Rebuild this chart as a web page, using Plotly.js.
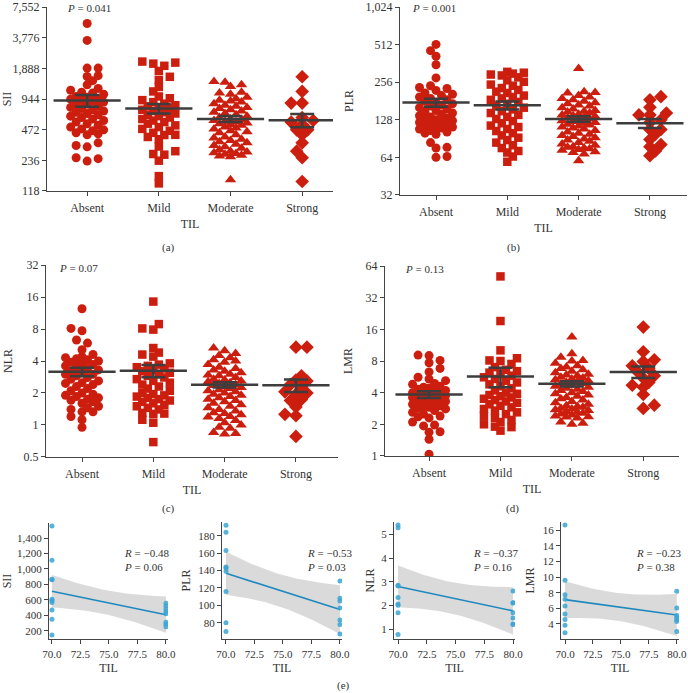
<!DOCTYPE html>
<html>
<head>
<meta charset="utf-8">
<script src="https://cdn.plot.ly/plotly-3.0.1.min.js"></script>
<style>body{margin:0;background:#fff}</style>
</head>
<body>
<div id="chart" style="width:688px;height:693px"></div>
<script>
// groups of TIL
var groups = ["Absent", "Mild", "Moderate", "Strong"];

// (a) SII
var siiAbsent = [5200, 3550, 1900, 1900, 1600, 1570, 1430, 1300, 1200, 1150, 1100, 1080, 1050, 1000, 980, 950, 940, 920, 900, 880, 860, 840, 800, 780, 760, 740, 720, 700, 680, 660, 640, 620, 600, 580, 560, 540, 520, 500, 480, 470, 460, 440, 430, 420, 350, 330, 320, 250, 245, 232];
var siiMild = [2200, 2150, 2100, 2000, 1780, 1560, 1450, 1240, 1120, 1000, 960, 920, 880, 850, 820, 800, 780, 760, 740, 720, 700, 680, 660, 640, 620, 600, 580, 560, 540, 520, 500, 480, 460, 440, 420, 418, 400, 380, 322, 290, 272, 268, 234, 165, 140];
var siiModerate = [1400, 1380, 1300, 1250, 1100, 1080, 1050, 980, 950, 920, 900, 880, 850, 820, 800, 780, 760, 740, 720, 700, 680, 660, 640, 620, 600, 590, 580, 570, 560, 550, 540, 530, 520, 500, 490, 480, 460, 450, 440, 420, 400, 390, 380, 370, 360, 350, 340, 330, 320, 310, 300, 290, 285, 280, 276, 270, 265, 260, 256, 152];
var siiStrong = [1560, 1120, 860, 860, 620, 580, 560, 530, 470, 470, 420, 350, 290, 250, 146];
var siiMean = [913, 761, 602, 585];
var siiSem = [120, 80, 40, 88];
var siiTicks = [118, 236, 472, 944, 1888, 3776, 7552];
var siiTickText = ["118", "236", "472", "944", "1,888", "3,776", "7,552"];

// (b) PLR
var plrAbsent = [514, 458, 413, 353, 277, 240, 232, 228, 220, 210, 205, 200, 195, 190, 185, 180, 176, 172, 168, 165, 160, 156, 152, 148, 145, 142, 138, 135, 132, 130, 128, 126, 124, 122, 120, 118, 116, 114, 112, 110, 108, 105, 102, 100, 98, 84, 77, 76, 65, 64];
var plrMild = [310, 305, 300, 295, 290, 280, 265, 258, 245, 240, 230, 222, 215, 210, 200, 195, 190, 185, 178, 172, 165, 160, 155, 150, 145, 140, 135, 130, 125, 120, 115, 112, 108, 104, 100, 96, 92, 88, 84, 80, 76, 72, 70, 65, 59];
var plrModerate = [330, 215, 212, 210, 200, 195, 190, 185, 180, 175, 172, 168, 165, 160, 156, 152, 150, 148, 145, 142, 140, 138, 136, 134, 132, 130, 128, 126, 124, 122, 120, 118, 116, 114, 112, 110, 108, 105, 102, 100, 98, 96, 94, 92, 90, 88, 86, 84, 82, 80, 78, 77, 76, 75, 74, 73, 71, 70, 68, 60];
var plrStrong = [196, 185, 161, 145, 140, 140, 128, 122, 107, 107, 98, 89, 81, 78, 72, 66];
var plrMean = [176, 167, 130, 120];
var plrSem = [13, 12, 6.5, 10];
var plrTicks = [32, 64, 128, 256, 512, 1024];
var plrTickText = ["32", "64", "128", "256", "512", "1,024"];

// (c) NLR
var nlrAbsent = [12.4, 8.1, 7.7, 6.3, 5.9, 5.1, 4.6, 4.4, 4.3, 4.2, 4.1, 4.0, 3.9, 3.8, 3.7, 3.6, 3.5, 3.4, 3.3, 3.2, 3.1, 3.0, 3.0, 2.9, 2.8, 2.7, 2.6, 2.5, 2.46, 2.4, 2.3, 2.2, 2.1, 2.0, 1.95, 1.9, 1.85, 1.8, 1.75, 1.71, 1.65, 1.6, 1.5, 1.45, 1.4, 1.33, 1.33, 1.2, 1.12, 0.95];
var nlrMild = [14.5, 8.9, 8.1, 7.9, 5.3, 4.8, 4.6, 4.4, 3.8, 3.7, 3.6, 3.5, 3.4, 3.3, 3.2, 3.1, 3.0, 2.9, 2.8, 2.7, 2.6, 2.5, 2.4, 2.3, 2.2, 2.1, 2.0, 1.95, 1.9, 1.85, 1.8, 1.75, 1.7, 1.65, 1.6, 1.55, 1.5, 1.45, 1.4, 1.3, 1.28, 1.27, 1.12, 1.05, 0.69];
var nlrModerate = [5.3, 5.0, 4.7, 4.5, 4.3, 4.1, 4.0, 3.9, 3.7, 3.5, 3.4, 3.3, 3.2, 3.1, 3.0, 2.95, 2.9, 2.8, 2.7, 2.65, 2.6, 2.55, 2.5, 2.45, 2.4, 2.35, 2.3, 2.25, 2.2, 2.15, 2.1, 2.05, 2.0, 1.95, 1.9, 1.85, 1.8, 1.75, 1.7, 1.65, 1.6, 1.55, 1.5, 1.45, 1.4, 1.35, 1.3, 1.28, 1.25, 1.2, 1.19, 1.15, 1.1, 1.05, 1.0, 0.95, 0.93, 0.85, 0.83, 0.82];
var nlrStrong = [5.4, 5.4, 2.9, 2.65, 2.6, 2.4, 2.25, 2.05, 2.0, 1.95, 1.74, 1.7, 1.48, 1.26, 1.22, 0.78];
var nlrMean = [3.17, 3.24, 2.39, 2.36];
var nlrSem = [0.29, 0.42, 0.14, 0.32];
var nlrTicks = [0.5, 1, 2, 4, 8, 16, 32];
var nlrTickText = ["0.5", "1", "2", "4", "8", "16", "32"];

// (d) LMR
var lmrAbsent = [9.1, 9.0, 8.1, 7.7, 6.8, 6.3, 5.6, 5.4, 5.2, 4.9, 4.8, 4.6, 4.5, 4.4, 4.3, 4.2, 4.1, 4.0, 3.95, 3.9, 3.85, 3.8, 3.75, 3.7, 3.6, 3.5, 3.45, 3.4, 3.35, 3.3, 3.2, 3.1, 3.0, 2.95, 2.9, 2.85, 2.8, 2.7, 2.6, 2.5, 2.4, 2.36, 2.3, 2.1, 1.97, 1.93, 1.7, 1.68, 1.44, 1.04];
var lmrMild = [51, 19.2, 10.1, 8.5, 8.1, 8.0, 7.5, 7.0, 6.6, 6.4, 6.2, 6.0, 5.8, 5.6, 5.4, 5.2, 5.0, 4.8, 4.6, 4.4, 4.2, 4.0, 3.9, 3.8, 3.7, 3.6, 3.5, 3.4, 3.3, 3.2, 3.1, 3.0, 2.9, 2.8, 2.7, 2.6, 2.5, 2.4, 2.3, 2.2, 2.1, 2.0, 1.9, 1.88, 1.74];
var lmrModerate = [13.5, 9.4, 8.7, 8.1, 8.0, 7.6, 7.2, 7.0, 6.8, 6.6, 6.4, 6.2, 6.0, 5.9, 5.8, 5.6, 5.5, 5.4, 5.3, 5.2, 5.1, 5.0, 4.9, 4.8, 4.7, 4.6, 4.5, 4.4, 4.3, 4.2, 4.1, 4.0, 3.9, 3.8, 3.7, 3.6, 3.5, 3.4, 3.3, 3.2, 3.1, 3.0, 2.95, 2.9, 2.85, 2.8, 2.75, 2.7, 2.65, 2.6, 2.55, 2.5, 2.45, 2.4, 2.36, 2.35, 2.3, 2.1, 2.05, 2.0];
var lmrStrong = [16.8, 9.8, 8.2, 7.9, 7.2, 6.8, 6.3, 5.8, 5.5, 5.0, 4.7, 4.5, 3.84, 3.04, 2.83];
var lmrMean = [3.84, 5.69, 4.85, 6.3];
var lmrSem = [0.29, 1.2, 0.28, 0.78];
var lmrTicks = [1, 2, 4, 8, 16, 32, 64];
var lmrTickText = ["1", "2", "4", "8", "16", "32", "64"];

// (e) correlation with TIL (70 vs 80)
var sii70 = [1555, 1112, 867, 860, 609, 590, 566, 467, 350, 144];
var sii80 = [555, 520, 480, 445, 420, 310, 285, 250];
var plr70 = [192, 184, 163, 144, 143, 139, 116, 80, 70];
var plr80 = [128, 108, 105, 97, 83, 78, 67];
var nlr70 = [5.39, 5.28, 2.85, 2.82, 2.33, 2.06, 2.0, 1.69, 0.77];
var nlr80 = [2.61, 2.11, 2.1, 1.69, 1.47, 1.21, 1.19];
var lmr70 = [16.7, 9.6, 7.74, 7.14, 6.28, 5.25, 4.56, 3.8, 2.84];
var lmr80 = [8.17, 6.02, 5.08, 4.82, 4.56, 4.3, 3.0];
var tilTicks = [70, 72.5, 75, 77.5, 80];
var siiCorrTicks = [200, 400, 600, 800, 1000, 1200, 1400];
var plrCorrTicks = [80, 100, 120, 140, 160, 180];
var nlrCorrTicks = [1, 2, 3, 4, 5];
var lmrCorrTicks = [4, 6, 8, 10, 12, 14, 16];
var corrR = ["\u22120.48", "\u22120.53", "\u22120.37", "\u22120.23"];
var corrP = ["0.06", "0.03", "0.16", "0.38"];

var W = 688, H = 693;
var FONT = "Liberation Serif";
var TXT = "#333";
var RED = "#cc1e0e";
var GREY = "#3d3d3d";

function xd(a, b) { return [a / W, b / W]; }
function yd(top, bot) { return [(H - bot) / H, (H - top) / H]; }

// column scatter: offsets in category units, at most maxK columns each side
function swarm(vals, pxPerDec, pxPerCat) {
  var pts = vals.map(function (v, i) { return {i: i, py: Math.log10(v) * pxPerDec}; });
  pts.sort(function (a, b) { return a.py - b.py; });
  var placed = [], out = [];
  var step = 5.5, minD = 6.8, maxK = 3;
  function gap(c, p) {
    var m = 1e9;
    placed.forEach(function (q) {
      var dx = q.px - c, dy = q.py - p.py;
      m = Math.min(m, Math.sqrt(dx * dx + dy * dy));
    });
    return m;
  }
  pts.forEach(function (p, n) {
    var s = n % 2 ? 1 : -1, best = null, bestGap = -1, bestC = 0;
    for (var k = 0; k <= maxK && best === null; k++) {
      var cands = k === 0 ? [0] : [s * k * step, -s * k * step];
      cands.forEach(function (c) {
        var g = gap(c, p);
        if (best === null && g >= minD) best = c;
        if (g > bestGap + 0.5) { bestGap = g; bestC = c; }
      });
    }
    if (best === null) best = bestC;
    p.px = best; placed.push(p); out[p.i] = best / pxPerCat;
  });
  return out;
}

var topPanels = [
  {vals: [siiAbsent, siiMild, siiModerate, siiStrong], mean: siiMean, sem: siiSem, tv: siiTicks, tt: siiTickText,
   px: [47, 333], py: [7, 191], xr: [-0.56, 3.43], title: "SII", so: 2, p: "0.041", pPos: [65, 8], lab: "(a)", labPos: [168, 247]},
  {vals: [plrAbsent, plrMild, plrModerate, plrStrong], mean: plrMean, sem: plrSem, tv: plrTicks, tt: plrTickText,
   px: [400, 687], py: [7, 195], xr: [-0.505, 3.52], title: "PLR", so: 9, p: "0.001", pPos: [410, 8], lab: "(b)", labPos: [513, 247]},
  {vals: [nlrAbsent, nlrMild, nlrModerate, nlrStrong], mean: nlrMean, sem: nlrSem, tv: nlrTicks, tt: nlrTickText,
   px: [46, 338], py: [265, 457], xr: [-0.505, 3.59], title: "NLR", so: 8, p: "0.07", pPos: [57, 268], lab: "(c)", labPos: [168, 508]},
  {vals: [lmrAbsent, lmrMild, lmrModerate, lmrStrong], mean: lmrMean, sem: lmrSem, tv: lmrTicks, tt: lmrTickText,
   px: [385, 679], py: [266, 456], xr: [-0.617, 3.5], title: "LMR", so: 10, p: "0.13", pPos: [403, 269], lab: "(d)", labPos: [512, 508]}
];
var symbols = ["circle", "square", "triangle-up", "diamond"];
var symSize = [9, 8.5, 10, 10.5];

var botPanels = [
  {a: sii70, b: sii80, tv: siiCorrTicks, fmt: ",d", px: [49, 168], py: [523, 639], xr: [69.74, 80.18], yr: [93, 1595], title: "SII", so: 3, tx: 122},
  {a: plr70, b: plr80, tv: plrCorrTicks, fmt: "d", px: [222, 342], py: [522, 639], xr: [69.65, 80.18], yr: [61.3, 195.7], title: "PLR", so: 5, tx: 305},
  {a: nlr70, b: nlr80, tv: nlrCorrTicks, fmt: "d", px: [394, 515], py: [522, 639], xr: [69.65, 80.17], yr: [0.58, 5.52], title: "NLR", so: 4, tx: 471},
  {a: lmr70, b: lmr80, tv: lmrCorrTicks, fmt: "d", px: [561, 679], py: [522, 639], xr: [69.64, 80.2], yr: [2.05, 17.07], title: "LMR", so: 5, tx: 634}
];

var data = [], annotations = [];
var layout = {
  width: W, height: H, margin: {l: 0, r: 0, t: 0, b: 0},
  paper_bgcolor: "#fff", plot_bgcolor: "rgba(0,0,0,0)", showlegend: false,
  font: {family: FONT, size: 12, color: TXT}
};

function axisBase(fs) {
  return {
    showline: true, linecolor: "#444", linewidth: 1, ticks: "outside", ticklen: 4, tickcolor: "#444",
    showgrid: false, zeroline: false, tickfont: {family: FONT, size: fs, color: TXT}, fixedrange: true,
    ticklabeloverflow: "allow"
  };
}

function ann(text, x, y, xanchor, extra) {
  var a = {text: text, x: x / W, y: (H - y) / H, xref: "paper", yref: "paper", xanchor: xanchor || "center",
           yanchor: "middle", showarrow: false, font: {family: FONT, size: 11, color: TXT}};
  for (var k in extra) a[k] = extra[k];
  annotations.push(a);
}

topPanels.forEach(function (P, n) {
  var ax = n + 1, xs = ax === 1 ? "" : ax;
  var lo = Math.log10(P.tv[0]), hi = Math.log10(P.tv[P.tv.length - 1]);
  var pxPerDec = (P.py[1] - P.py[0]) / (hi - lo);
  var pxPerCat = (P.px[1] - P.px[0]) / (P.xr[1] - P.xr[0]);
  P.vals.forEach(function (vals, g) {
    var off = swarm(vals, pxPerDec, pxPerCat);
    data.push({
      type: "scatter", mode: "markers", xaxis: "x" + xs, yaxis: "y" + xs,
      x: off.map(function (o) { return g + o; }), y: vals, hoverinfo: "y",
      marker: {symbol: symbols[g], size: symSize[g], color: RED, line: {width: 0}}
    });
  });
  data.push({
    type: "scatter", mode: "markers", xaxis: "x" + xs, yaxis: "y" + xs,
    x: [0, 1, 2, 3], y: P.mean,
    marker: {symbol: "line-ew", size: 48, color: GREY, line: {width: 2.5, color: GREY}},
    error_y: {type: "data", array: P.sem, visible: true, thickness: 2.5, width: 12, color: GREY}
  });
  var xa = axisBase(12), ya = axisBase(12);
  xa.domain = xd(P.px[0], P.px[1]); xa.range = P.xr; xa.anchor = "y" + xs;
  xa.tickvals = [0, 1, 2, 3]; xa.ticktext = groups; xa.ticklabelstandoff = 2;
  xa.title = {text: "TIL", font: {family: FONT, size: 12, color: TXT}, standoff: 5};
  ya.type = "log"; ya.domain = yd(P.py[0], P.py[1]); ya.range = [lo - 0.0005, hi + 0.0005]; ya.anchor = "x" + xs;
  ya.tickvals = P.tv; ya.ticktext = P.tt;
  ya.title = {text: P.title, font: {family: FONT, size: 12, color: TXT}, standoff: P.so};
  layout["xaxis" + xs] = xa; layout["yaxis" + xs] = ya;
  ann("<i>P</i> = " + P.p, P.pPos[0], P.pPos[1], "left");
  ann(P.lab, P.labPos[0], P.labPos[1]);
});

function tval(df) {
  var z = 1.959964;
  var g1 = (z * z * z + z) / 4, g2 = (5 * Math.pow(z, 5) + 16 * z * z * z + 3 * z) / 96;
  return z + g1 / df + g2 / (df * df);
}

botPanels.forEach(function (P, n) {
  var ax = n + 5;
  var xs = P.a.map(function () { return 70; }).concat(P.b.map(function () { return 80; }));
  var ys = P.a.concat(P.b);
  var N = xs.length;
  var mx = xs.reduce(function (s, v) { return s + v; }, 0) / N;
  var my = ys.reduce(function (s, v) { return s + v; }, 0) / N;
  var sxx = 0, sxy = 0;
  xs.forEach(function (x, i) { sxx += (x - mx) * (x - mx); sxy += (x - mx) * (ys[i] - my); });
  var slope = sxy / sxx, icpt = my - slope * mx;
  var sse = 0;
  xs.forEach(function (x, i) { var r = ys[i] - (icpt + slope * x); sse += r * r; });
  var s = Math.sqrt(sse / (N - 2)), t = tval(N - 2);
  var gx = [], up = [], dn = [];
  for (var k = 0; k <= 40; k++) {
    var x = 70 + k * 0.25, f = icpt + slope * x;
    var h = t * s * Math.sqrt(1 / N + (x - mx) * (x - mx) / sxx);
    gx.push(x); up.push(f + h); dn.push(f - h);
  }
  data.push({
    type: "scatter", mode: "lines", xaxis: "x" + ax, yaxis: "y" + ax, hoverinfo: "skip",
    x: gx.concat(gx.slice().reverse()), y: up.concat(dn.slice().reverse()),
    fill: "toself", fillcolor: "rgba(196,196,196,0.62)", line: {width: 0}
  });
  data.push({
    type: "scatter", mode: "lines", xaxis: "x" + ax, yaxis: "y" + ax,
    x: [70, 80], y: [icpt + slope * 70, icpt + slope * 80], line: {color: "#1f89bf", width: 1.6}
  });
  data.push({
    type: "scatter", mode: "markers", xaxis: "x" + ax, yaxis: "y" + ax,
    x: xs, y: ys, marker: {size: 5, color: "#3aa4d3", opacity: 0.85}
  });
  var xa = axisBase(11), ya = axisBase(11);
  xa.domain = xd(P.px[0], P.px[1]); xa.range = P.xr; xa.anchor = "y" + ax;
  xa.tickvals = tilTicks; xa.tickformat = ".1f"; xa.ticklabelstandoff = 1;
  xa.title = {text: "TIL", font: {family: FONT, size: 12, color: TXT}, standoff: 4};
  ya.domain = yd(P.py[0], P.py[1]); ya.range = P.yr; ya.anchor = "x" + ax;
  ya.tickvals = P.tv; ya.tickformat = P.fmt;
  ya.title = {text: P.title, font: {family: FONT, size: 12, color: TXT}, standoff: P.so};
  layout["xaxis" + ax] = xa; layout["yaxis" + ax] = ya;
  ann("<i>R</i> = " + corrR[n] + "<br><i>P</i> = " + corrP[n], P.tx, 559.5, "left", {align: "left"});
});

ann("(e)", 343, 685);
layout.annotations = annotations;

Plotly.newPlot("chart", data, layout, {staticPlot: true});
</script>
</body>
</html>
